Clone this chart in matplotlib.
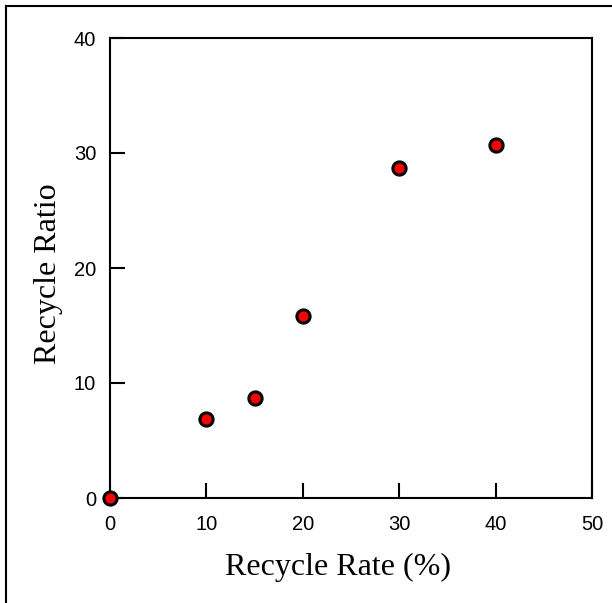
import matplotlib
matplotlib.use("Agg")
import matplotlib.pyplot as plt
from matplotlib.lines import Line2D

# data
rate = [0, 10, 15, 20, 30, 40]
ratio = [0.0, 6.9, 8.7, 15.8, 28.7, 30.7]
x_ticks = [0, 10, 20, 30, 40, 50]
y_ticks = [0, 10, 20, 30, 40]

fig = plt.figure(figsize=(6.12, 6.03), dpi=100)
ax = fig.add_axes([110 / 612, 1 - 498 / 603, 482 / 612, 460 / 603])

ax.plot(rate, ratio, linestyle="none", marker="o", markersize=9.5,
        markerfacecolor="red", markeredgecolor="black", markeredgewidth=2.2,
        clip_on=False, zorder=5)

ax.set_xlim(0, 50)
ax.set_ylim(0, 40)
ax.set_xticks(x_ticks)
ax.set_yticks(y_ticks)
ax.tick_params(direction="in", length=11, width=1.5, labelsize=14.5)
ax.tick_params(axis="x", pad=12)
ax.tick_params(axis="y", pad=10)
for lbl in ax.get_xticklabels() + ax.get_yticklabels():
    lbl.set_family("Liberation Sans")
for s in ax.spines.values():
    s.set_linewidth(1.5)

ax.set_xlabel("Recycle Rate (%)", family="Liberation Serif", fontsize=23, labelpad=14)
ax.set_ylabel("Recycle Ratio", family="Liberation Serif", fontsize=23, labelpad=8)
# labels sit a little off-centre in the original
ax.xaxis.label.set_x(0.473)
ax.yaxis.label.set_y(0.487)

# outer frame (only top and left edges show)
fig.add_artist(Line2D([6 / 612, 1], [1 - 6 / 603, 1 - 6 / 603], color="black", lw=1.5,
                      transform=fig.transFigure))
fig.add_artist(Line2D([6 / 612, 6 / 612], [0, 1 - 6 / 603], color="black", lw=1.5,
                      transform=fig.transFigure))

fig.savefig("out.png", dpi=100)
